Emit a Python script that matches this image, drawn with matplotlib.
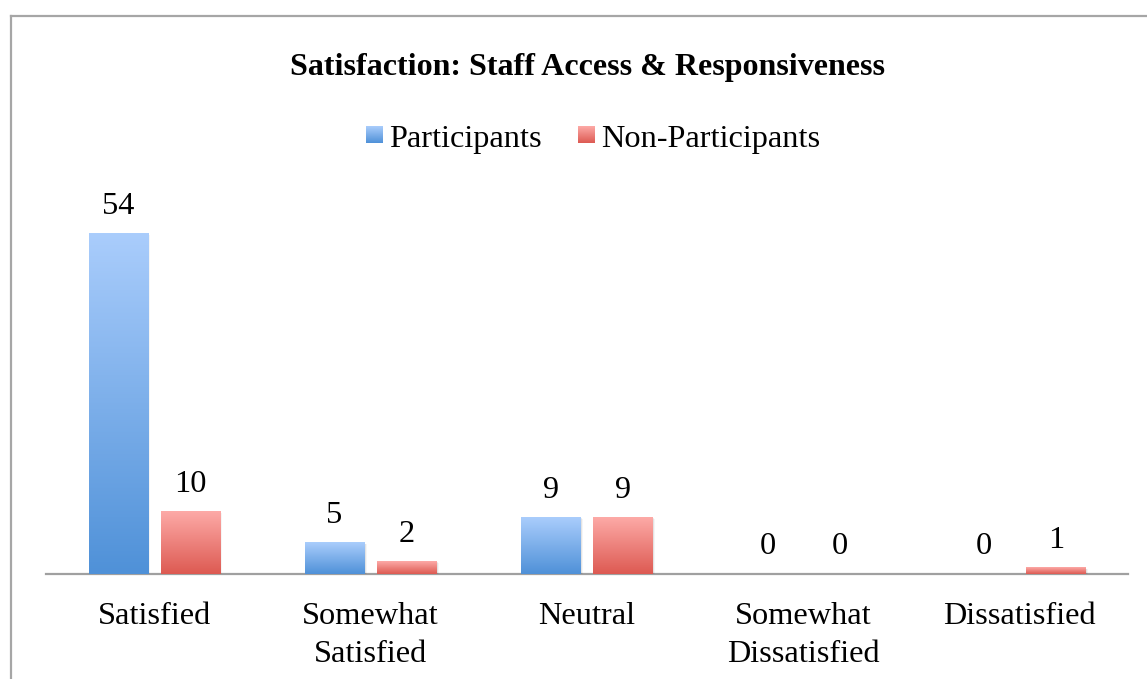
import numpy as np
import matplotlib
matplotlib.use("Agg")
import matplotlib.pyplot as plt
from matplotlib.colors import LinearSegmentedColormap
from matplotlib.lines import Line2D
from matplotlib.patches import Rectangle

categories = ["Satisfied", "Somewhat\nSatisfied", "Neutral", "Somewhat\nDissatisfied", "Dissatisfied"]
series_names = ["Participants", "Non-Participants"]
participants = [54, 5, 9, 0, 0]
non_participants = [10, 2, 9, 0, 1]
title = "Satisfaction: Staff Access & Responsiveness"

plt.rcParams["font.family"] = ["Liberation Serif", "DejaVu Serif"]

W, H = 1147, 679
fig = plt.figure(figsize=(W / 100, H / 100), dpi=100)
fig.patch.set_facecolor("white")

FS = 23.3

# gradient colour maps (top light -> bottom dark)
blue_cmap = LinearSegmentedColormap.from_list("blue_grad", ["#aacdfc", "#4f91d8"])
red_cmap = LinearSegmentedColormap.from_list("red_grad", ["#fdaaa7", "#dd5a52"])
grad = np.linspace(0, 1, 256).reshape(-1, 1)

left, right = 46 / W, 1128 / W
bottom = 1 - 574 / H
ax = fig.add_axes([left, bottom, right - left, (574 - 196) / H])
ymax = 60
ax.set_xlim(-0.5, len(categories) - 0.5)
ax.set_ylim(0, ymax)

bw = 0.273
off = 0.1664
x = np.arange(len(categories))

def gradient_bar(xc, h, cmap):
    if h <= 0:
        return
    x0, x1 = xc - bw / 2, xc + bw / 2
    # soft drop shadow
    for k, a in enumerate([0.10, 0.07, 0.04]):
        dx = 0.004 * (k + 1)
        dy = 0.08 * (k + 1)
        ax.add_patch(Rectangle((x0 + dx, -dy), bw, h, facecolor="black",
                               edgecolor="none", alpha=a, zorder=1))
    ax.imshow(grad, cmap=cmap, extent=(x0, x1, 0, h), aspect="auto",
              origin="upper", zorder=2, interpolation="bilinear")

for i in range(len(categories)):
    gradient_bar(x[i] - off, participants[i], blue_cmap)
    gradient_bar(x[i] + off, non_participants[i], red_cmap)
    for xc, v in ((x[i] - off, participants[i]), (x[i] + off, non_participants[i])):
        ax.annotate(str(v), (xc, v), xytext=(0, 9), textcoords="offset points",
                    ha="center", va="bottom", fontsize=FS, color="black")

ax.set_xlim(-0.5, len(categories) - 0.5)
ax.set_ylim(0, ymax)

for s in ["left", "right", "top"]:
    ax.spines[s].set_visible(False)
ax.spines["bottom"].set_color("#a0a0a0")
ax.spines["bottom"].set_linewidth(1.6)
ax.spines["bottom"].set_zorder(0)
ax.set_yticks([])
ax.set_xticks(x)
ax.set_xticklabels(categories, fontsize=FS, linespacing=1.43)
ax.tick_params(axis="x", length=0, pad=20)
ax.patch.set_visible(False)

# title
fig.text(587 / W, 1 - 67 / H, title, ha="center", va="center",
         fontsize=23, fontweight="bold")

# legend drawn in figure pixel coordinates
def legend_entry(px, label, cmap):
    sq = fig.add_axes([px / W, 1 - 143 / H, 17 / W, 17 / H])
    sq.imshow(grad, cmap=cmap, aspect="auto", origin="upper")
    sq.set_axis_off()
    fig.text((px + 23) / W, 1 - 140 / H, label, ha="left", va="center", fontsize=FS)

legend_entry(366, series_names[0], blue_cmap)
legend_entry(578, series_names[1], red_cmap)

# outer frame
fig.add_artist(Line2D([11 / W, 11 / W], [0, 1 - 16 / H], color="#a6a6a6", lw=1.6,
                      transform=fig.transFigure))
fig.add_artist(Line2D([11 / W, 1], [1 - 16 / H, 1 - 16 / H], color="#a6a6a6", lw=1.6,
                      transform=fig.transFigure))

fig.savefig("out.png", dpi=100)
